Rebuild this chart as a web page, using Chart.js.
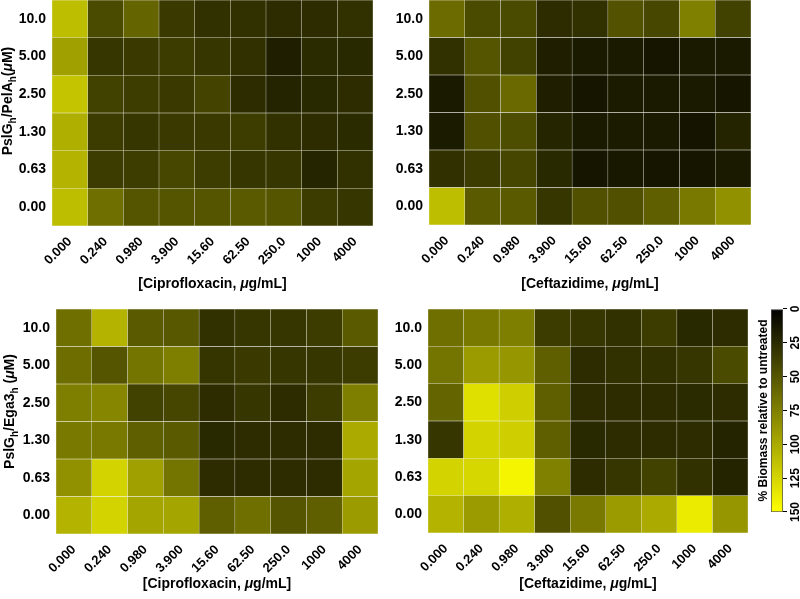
<!DOCTYPE html>
<html>
<head>
<meta charset="utf-8">
<script src="https://cdn.jsdelivr.net/npm/chart.js@4.4.1/dist/chart.umd.min.js"></script>
<style>
  html, body { margin: 0; padding: 0; background: #fff; }
  body { width: 800px; height: 599px; position: relative; overflow: hidden; }
  .panel { position: absolute; }
  .panel canvas { display: block; }
  #cb { transform: rotate(-90deg); }
</style>
</head>
<body>
<div class="panel" style="left:0;top:0"><canvas id="c1" width="380" height="300"></canvas></div>
<div class="panel" style="left:380px;top:0"><canvas id="c2" width="420" height="300"></canvas></div>
<div class="panel" style="left:0;top:300px"><canvas id="c3" width="380" height="299"></canvas></div>
<div class="panel" style="left:380px;top:300px"><canvas id="c4" width="370" height="299"></canvas></div>
<div class="panel" id="cb" style="left:620px;top:420px"><canvas id="c5" width="300" height="60"></canvas></div>
<script>
// antibiotic concentrations (columns) and glycoside hydrolase concentrations (rows, top to bottom)
const xTicks = ['0.000', '0.240', '0.980', '3.900', '15.60', '62.50', '250.0', '1000', '4000'];
const rowLabels = ['10.0', '5.00', '2.50', '1.30', '0.63', '0.00'];

// % biomass relative to untreated, rows top -> bottom
const pelaCipro = [
    [112, 44, 59, 34, 29, 29, 26, 26, 29],
    [94, 32, 34, 35, 32, 28, 18, 25, 24],
    [115, 38, 36, 34, 40, 26, 21, 24, 26],
    [103, 35, 32, 34, 34, 36, 29, 26, 25],
    [106, 35, 36, 42, 36, 32, 32, 22, 29],
    [112, 65, 50, 50, 50, 53, 50, 35, 32]
];
const pelaCeftaz = [
    [63, 44, 44, 26, 29, 48, 42, 75, 39],
    [29, 50, 38, 18, 15, 15, 13, 15, 15],
    [15, 47, 62, 18, 13, 16, 15, 15, 13],
    [16, 47, 46, 22, 15, 16, 15, 12, 21],
    [28, 35, 41, 24, 13, 14, 13, 13, 15],
    [112, 53, 53, 32, 47, 47, 56, 71, 85]
];
const ega3Cipro = [
    [65, 106, 53, 52, 29, 32, 32, 35, 53],
    [64, 50, 68, 74, 31, 34, 32, 32, 35],
    [74, 79, 38, 41, 26, 32, 26, 35, 74],
    [71, 71, 56, 53, 24, 26, 26, 26, 100],
    [85, 124, 94, 68, 26, 26, 26, 26, 97],
    [106, 124, 97, 97, 56, 65, 50, 56, 91]
];
const ega3Ceftaz = [
    [65, 71, 74, 35, 32, 29, 35, 24, 26],
    [68, 91, 88, 56, 26, 29, 29, 32, 44],
    [59, 132, 121, 56, 26, 26, 26, 25, 26],
    [32, 124, 121, 56, 24, 26, 26, 26, 21],
    [124, 126, 144, 76, 26, 32, 38, 29, 21],
    [106, 91, 103, 47, 71, 91, 100, 138, 88]
];

const cbMin = 0;
const cbMax = 150;
const cbTicks = [0, 25, 50, 75, 100, 125, 150];

const FONT = '"Liberation Sans", Arial, Helvetica, sans-serif';

function heatColor(v) {
    const t = Math.max(0, Math.min(1, (v - cbMin) / (cbMax - cbMin)));
    const c = Math.round(255 * t);
    return `rgb(${c},${c},0)`;
}

// axis titles with subscripts / italic mu
function drawRuns(ctx, runs, cx, cy, angle) {
    const size = 14;
    const fontFor = r => (r.it ? 'italic ' : '') + 'bold ' + (r.sub ? 10 : size) + 'px ' + FONT;
    let total = 0;
    runs.forEach(r => { ctx.font = fontFor(r); r.w = ctx.measureText(r.t).width; total += r.w; });
    ctx.save();
    ctx.translate(cx, cy);
    ctx.rotate(angle);
    ctx.fillStyle = '#000';
    ctx.textBaseline = 'alphabetic';
    ctx.textAlign = 'left';
    let x = -total / 2;
    runs.forEach(r => {
        ctx.font = fontFor(r);
        ctx.fillText(r.t, x, size * 0.36 + (r.sub ? 4 : 0));
        x += r.w;
    });
    ctx.restore();
}

const richTitles = {
    id: 'richTitles',
    afterDraw(chart, args, opts) {
        const a = chart.chartArea;
        if (opts.x) drawRuns(chart.ctx, opts.x.runs, (a.left + a.right) / 2 + (opts.x.dx || 0), opts.x.y, 0);
        if (opts.y) drawRuns(chart.ctx, opts.y.runs, opts.y.x, (a.top + a.bottom) / 2 + (opts.y.dy || 0), -Math.PI / 2);
    }
};

function xTitle(drug) {
    return [{ t: '[' + drug + ', ' }, { t: 'μ', it: true }, { t: 'g/mL]' }];
}
function yTitle(partner, gap) {
    return [{ t: 'PslG' }, { t: 'h', sub: true }, { t: '/' + partner }, { t: 'h', sub: true },
        { t: gap ? ' (' : '(' }, { t: 'μ', it: true }, { t: 'M)' }];
}

function heatmap(id, values, cfg) {
    const rowsBottomUp = rowLabels.slice().reverse();
    const datasets = values.slice().reverse().map((row, i) => ({
        label: rowsBottomUp[i],
        data: xTicks.map(() => 1),
        backgroundColor: row.map(heatColor),
        borderColor: 'rgba(200,200,170,0.16)',
        borderWidth: 0.5,
        borderSkipped: false,
        barPercentage: 1,
        categoryPercentage: 1
    }));
    return new Chart(document.getElementById(id), {
        type: 'bar',
        data: { labels: xTicks, datasets },
        options: {
            responsive: false,
            animation: false,
            layout: { padding: { top: cfg.padTop, right: cfg.padRight, left: 0, bottom: 0 } },
            plugins: {
                legend: { display: false },
                tooltip: { enabled: false },
                richTitles: {
                    x: { runs: xTitle(cfg.drug), y: cfg.xTitleY, dx: cfg.xTitleDx || 0 },
                    y: cfg.partner ? { runs: yTitle(cfg.partner, cfg.gap), x: cfg.yTitleX, dy: cfg.yTitleDy } : null
                }
            },
            scales: {
                x: {
                    stacked: true,
                    grid: { display: false, drawTicks: false },
                    border: { display: false },
                    ticks: {
                        color: '#000', font: { family: FONT, size: 13, weight: 'bold' },
                        minRotation: 45, maxRotation: 45, autoSkip: false, padding: 8
                    },
                    afterFit: s => { s.height = cfg.xAxisH; s.paddingLeft = 0; s.paddingRight = 0; }
                },
                y: {
                    stacked: true,
                    min: 0,
                    max: rowLabels.length,
                    grid: { display: false, drawTicks: false },
                    border: { display: false },
                    afterBuildTicks: s => { s.ticks = rowsBottomUp.map((_, i) => ({ value: i + 0.5 })); },
                    ticks: {
                        color: '#000', font: { family: FONT, size: 14, weight: 'bold' }, padding: 6,
                        callback: (v, i) => rowsBottomUp[i]
                    },
                    afterFit: s => { s.width = cfg.yAxisW; s.paddingTop = 0; s.paddingBottom = 0; }
                }
            }
        },
        plugins: [richTitles]
    });
}

heatmap('c1', pelaCipro, { drug: 'Ciprofloxacin', partner: 'PelA', gap: false, yAxisW: 52, xAxisH: 74, padTop: 0, padRight: 7, xTitleY: 283, yTitleX: 7, yTitleDy: -12 });
heatmap('c2', pelaCeftaz, { drug: 'Ceftazidime', yAxisW: 49, xAxisH: 75, padTop: 0, padRight: 49, xTitleY: 283 });
heatmap('c3', ega3Cipro, { drug: 'Ciprofloxacin', partner: 'Ega3', gap: true, yAxisW: 56, xAxisH: 65, padTop: 9, padRight: 2, xTitleY: 283, yTitleX: 9, yTitleDy: -10 });
heatmap('c4', ega3Ceftaz, { drug: 'Ceftazidime', yAxisW: 48, xAxisH: 66, padTop: 9, padRight: 2, xTitleY: 283 });

// colour bar: drawn horizontally, the canvas is turned -90deg with CSS
new Chart(document.getElementById('c5'), {
    type: 'bar',
    data: {
        labels: [''],
        datasets: [{
            data: [[cbMin, cbMax]],
            backgroundColor: (c) => {
                const chart = c.chart;
                const a = chart.chartArea;
                if (!a) return '#000';
                const xs = chart.scales.x;
                const g = chart.ctx.createLinearGradient(a.left, 0, a.right, 0);
                cbTicks.forEach(v => {
                    const p = (xs.getPixelForValue(v) - a.left) / (a.right - a.left);
                    g.addColorStop(Math.max(0, Math.min(1, p)), heatColor(v));
                });
                return g;
            },
            borderColor: '#555',
            borderWidth: 1,
            borderSkipped: false,
            barPercentage: 1,
            categoryPercentage: 1
        }]
    },
    options: {
        indexAxis: 'y',
        responsive: false,
        animation: false,
        layout: { padding: { left: 88, right: 9, top: 0, bottom: 0 } },
        plugins: { legend: { display: false }, tooltip: { enabled: false } },
        scales: {
            y: { display: false },
            x: {
                type: 'linear', min: cbMin, max: cbMax, reverse: true, position: 'bottom',
                afterBuildTicks: s => { s.ticks = cbTicks.map(v => ({ value: v })); },
                grid: { drawOnChartArea: false, drawTicks: true, tickLength: 4, color: '#000' },
                border: { display: false },
                ticks: { color: '#000', font: { family: FONT, size: 12, weight: 'bold' }, maxRotation: 0, autoSkip: false, padding: 1 },
                afterFit: s => { s.height = 17; s.paddingLeft = 0; s.paddingRight = 0; }
            },
            x2: {
                type: 'linear', position: 'top', min: cbMin, max: cbMax,
                grid: { display: false, drawTicks: false },
                border: { display: false },
                ticks: { display: false },
                title: {
                    display: true, text: '% Biomass relative to untreated', color: '#000',
                    font: { family: FONT, size: 12, weight: 'bold' }, padding: { top: 16, bottom: 0 }
                },
                afterFit: s => { s.height = 31; s.paddingLeft = 0; s.paddingRight = 0; }
            }
        }
    }
});
</script>
</body>
</html>
